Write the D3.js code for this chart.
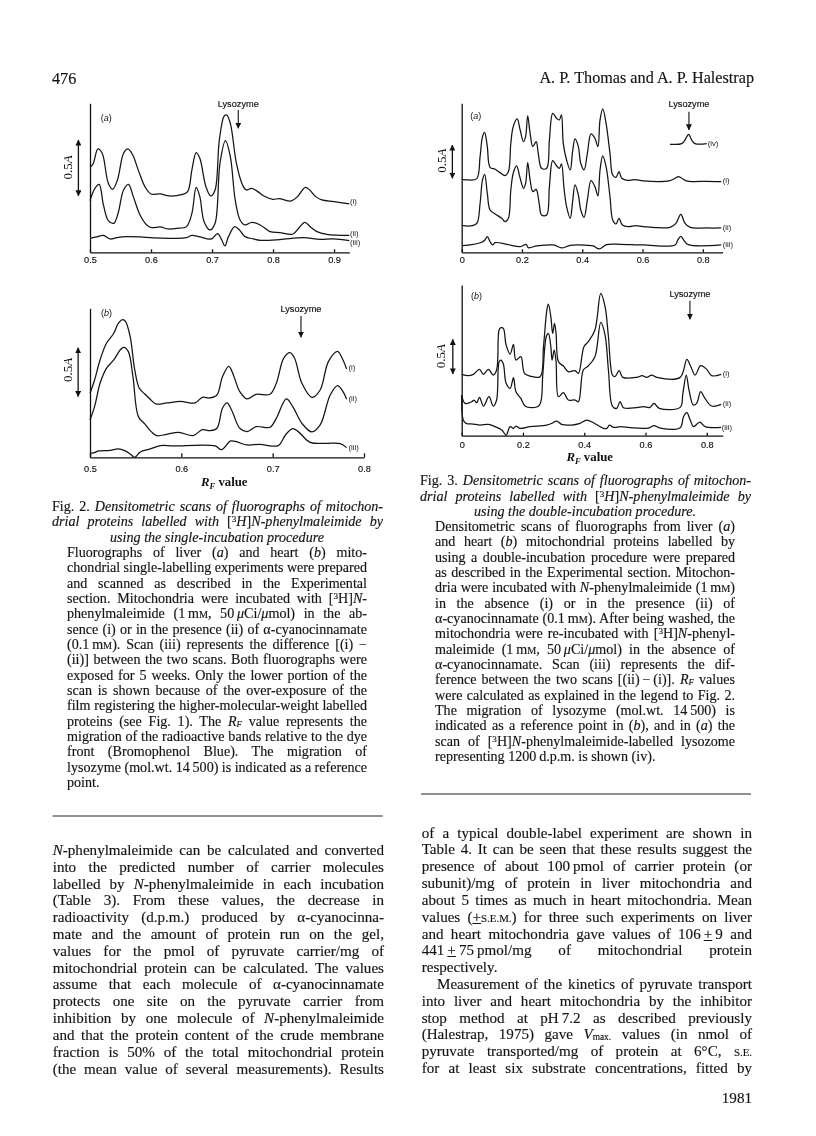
<!DOCTYPE html>
<html><head><meta charset="utf-8">
<script src="https://cdn.jsdelivr.net/npm/d3@7"></script>
<style>
html,body{margin:0;padding:0;background:#fff;}
#page{position:relative;width:816px;height:1136px;overflow:hidden;background:#fff;filter:blur(.3px);}
svg{position:absolute;left:0;top:0;}
.ln{position:absolute;white-space:nowrap;font-family:"Liberation Serif",serif;color:#141414;line-height:20px;-webkit-text-stroke:.15px #141414;}
.ln sup{font-size:.65em;line-height:0;vertical-align:.45em;}
.ln sub{font-size:.62em;line-height:0;vertical-align:-.15em;}
.sc{font-size:.72em;}
.axis path,.axis line{stroke:#111;stroke-width:1.3px;}
.axis text{font-family:"Liberation Sans",sans-serif;font-size:9.2px;fill:#111;stroke:#111;stroke-width:.15px;}
</style></head><body><div id="page"><svg width="816" height="1136" id="chart"></svg></div>
<script>
// ---- Fig. 2(a) liver, single incubation ----
const rf2a_i=[.5,.505,.513,.52,.53,.537,.545,.555,.562,.57,.58,.59,.6,.615,.63,.65,.66,.667,.674,.68,.69,.698,.705,.712,.72,.724,.73,.74,.75,.756,.765,.775,.785,.8,.81,.83,.84,.853,.86,.87,.88,.9,.925];
const h2a_i=[255,265,310,297,207,189,217,297,310,292,242,197,175,175,169,173,182,247,299,282,197,169,187,337,409,412,387,267,202,187,192,182,169,159,161,154,167,195,187,167,157,152,145];
const rf2a_ii=[.5,.508,.515,.522,.53,.539,.546,.555,.563,.571,.582,.593,.601,.615,.628,.642,.658,.667,.674,.68,.687,.697,.705,.713,.722,.73,.738,.746,.754,.765,.779,.795,.811,.833,.842,.852,.861,.872,.888,.925];
const h2a_ii=[155,192,204,142,95,87,117,187,204,167,112,82,74,76,70,72,77,117,195,167,92,67,87,267,335,287,157,97,82,90,82,62,59,55,72,90,77,62,54,51];
const rf2a_iii=[.5,.511,.522,.533,.544,.56,.582,.604,.637,.658,.667,.68,.699,.709,.716,.721,.727,.737,.745,.754,.768,.779,.811,.85,.877,.899,.925];
const h2a_iii=[42,46,51,40,44,47,46,43,42,44,51,46,40,56,37,19,47,77,67,47,40,36,38,44,39,40,35];
// ---- Fig. 2(b) heart, single incubation ----
const rf2b_i=[.5,.505,.511,.518,.526,.531,.536,.539,.544,.549,.554,.56,.566,.572,.584,.599,.615,.623,.631,.639,.645,.652,.657,.664,.672,.682,.697,.704,.712,.719,.724,.732,.743,.752,.761,.771,.777,.781];
const h2b_i=[192,232,292,342,372,402,413,407,362,262,207,190,174,160,163,168,163,180,178,187,242,273,247,197,175,189,189,222,297,314,297,222,180,202,287,318,292,265];
const rf2b_ii=[.5,.505,.511,.518,.526,.533,.537,.542,.547,.553,.56,.567,.573,.584,.597,.613,.623,.631,.639,.645,.65,.655,.664,.672,.682,.697,.704,.715,.722,.732,.743,.752,.763,.771,.777,.781];
const h2b_ii=[112,152,222,267,292,322,330,317,242,122,100,77,65,69,75,65,83,80,87,147,163,142,87,77,92,90,117,175,152,102,76,97,187,215,197,174];
const rf2b_iii=[.5,.504,.509,.522,.531,.538,.544,.549,.555,.566,.577,.591,.637,.644,.654,.661,.672,.686,.706,.714,.722,.728,.741,.759,.774,.781];
const h2b_iii=[12,13,19,21,25,20,10,0,16,25,35,34,34,23,49,46,37,39,35,67,86,77,45,42,41,29];
// ---- Fig. 3(a) liver, double incubation ----
const rf3a_i=[0,.022,.05,.061,.069,.076,.085,.094,.111,.127,.144,.155,.163,.171,.184,.194,.205,.212,.219,.227,.236,.247,.254,.265,.282,.291,.302,.315,.324,.331,.337,.348,.36,.368,.376,.387,.395,.406,.417,.429,.442,.452,.459,.468,.479,.492,.501,.512,.522,.531,.548,.575,.603,.691,.708,.719,.73,.746,.769,.813,.861];
const h3a_i=[219,217,221,287,347,360,317,255,249,239,230,242,327,377,400,367,332,347,409,357,317,332,297,252,252,337,417,402,397,412,327,277,247,302,340,317,267,247,297,355,342,317,397,430,387,297,232,225,242,222,216,218,214,215,222,227,222,214,212,213,212];
const rf3a_ii=[0,.028,.05,.061,.069,.076,.085,.094,.111,.133,.144,.155,.163,.171,.182,.194,.205,.212,.219,.227,.236,.247,.257,.265,.282,.291,.302,.315,.324,.331,.34,.348,.36,.368,.376,.387,.395,.406,.417,.429,.442,.452,.459,.468,.479,.492,.501,.512,.522,.533,.553,.577,.603,.691,.711,.727,.741,.758,.813,.861];
const h3a_ii=[81,79,87,147,217,234,177,127,115,102,92,102,187,237,259,222,192,207,269,217,182,189,147,112,112,197,275,259,252,265,187,137,102,152,202,172,127,105,157,215,197,169,247,289,257,167,97,85,102,82,77,80,77,75,87,114,87,75,73,73];
const rf3a_iii=[0,.039,.066,.077,.085,.094,.103,.111,.149,.194,.214,.221,.249,.304,.332,.36,.415,.437,.456,.481,.525,.603,.708,.717,.727,.738,.752,.861];
const h3a_iii=[20,24,30,37,47,32,22,29,24,17,24,14,19,22,13,21,21,19,10,23,24,22,22,37,48,35,23,22];
const rf3a_iv=[.691,.73,.741,.753,.763,.774,.813];
const h3a_iv=[324,326,337,354,337,326,326];
// ---- Fig. 3(b) heart, double incubation ----
const rf3b_i=[0,.022,.038,.058,.071,.087,.103,.114,.122,.128,.136,.145,.158,.169,.177,.193,.205,.223,.256,.267,.278,.283,.291,.297,.303,.308,.316,.332,.348,.37,.381,.399,.413,.435,.454,.468,.479,.492,.5,.514,.526,.571,.589,.604,.62,.637,.713,.735,.748,.762,.78,.8,.816,.847];
const h3b_i=[184,180,184,199,184,199,182,197,317,324,322,272,245,274,227,237,187,179,177,267,377,395,357,307,337,307,222,209,192,195,187,267,282,317,427,387,297,182,177,195,175,175,180,175,182,175,175,229,207,182,210,199,180,184];
const rf3b_ii=[0,.011,.033,.04,.049,.058,.071,.089,.103,.114,.122,.128,.136,.145,.158,.169,.177,.193,.207,.229,.254,.265,.276,.283,.291,.295,.302,.308,.316,.332,.348,.37,.381,.397,.413,.435,.454,.468,.479,.492,.506,.517,.528,.571,.593,.615,.628,.645,.713,.722,.733,.742,.756,.767,.78,.794,.816,.847];
const h3b_ii=[122,97,102,107,99,115,89,117,89,107,222,227,215,157,142,174,132,112,89,84,92,187,297,307,267,227,257,222,117,129,107,107,102,197,209,237,340,302,197,89,82,102,84,84,87,85,97,82,85,127,182,137,92,97,132,112,89,94];
const rf3b_iii=[0,.005,.014,.038,.06,.087,.109,.131,.145,.158,.169,.177,.19,.223,.277,.294,.31,.326,.359,.386,.408,.43,.463,.474,.482,.495,.519,.55,.609,.628,.648,.713,.724,.735,.746,.757,.777,.795,.847];
const h3b_iii=[122,47,37,35,32,34,27,17,2,27,22,29,22,27,32,37,44,34,32,37,47,39,22,22,32,25,27,24,23,30,23,24,57,69,47,27,41,27,25];

const ticks2a=[.5,.6,.7,.8,.9], ticks2b=[.5,.6,.7,.8], ticks3=[0,.2,.4,.6,.8];
const scanNames=["(i)","(ii)","(iii)","(iv)"];

// Running text
const capFig2=[
 '<span>Fig. 2.</span> <i>Densitometric scans of fluorographs of mitochon-</i>',
 '<i>drial proteins labelled with</i> [<sup>3</sup><i>H</i>]<i>N-phenylmaleimide by</i>',
 '<i>using the single-incubation procedure</i>'];
const bodyFig2=[
 'Fluorographs of liver (<i>a</i>) and heart (<i>b</i>) mito-',
 'chondrial single-labelling experiments were prepared',
 'and scanned as described in the Experimental',
 'section. Mitochondria were incubated with [<sup>3</sup>H]<i>N</i>-',
 'phenylmaleimide (1\u2009m<span class="sc">M</span>, 50\u2009<i>\u03bc</i>Ci/<i>\u03bc</i>mol) in the ab-',
 'sence (i) or in the presence (ii) of \u03b1-cyanocinnamate',
 '(0.1\u2009m<span class="sc">M</span>). Scan (iii) represents the difference [(i) \u2212',
 '(ii)] between the two scans. Both fluorographs were',
 'exposed for 5 weeks. Only the lower portion of the',
 'scan is shown because of the over-exposure of the',
 'film registering the higher-molecular-weight labelled',
 'proteins (see Fig. 1). The <i>R<sub>F</sub></i> value represents the',
 'migration of the radioactive bands relative to the dye',
 'front (Bromophenol Blue). The migration of',
 'lysozyme (mol.wt. 14\u2009500) is indicated as a reference',
 'point.'];
const capFig3=[
 '<span>Fig. 3.</span> <i>Densitometric scans of fluorographs of mitochon-</i>',
 '<i>drial proteins labelled with</i> [<sup>3</sup><i>H</i>]<i>N-phenylmaleimide by</i>',
 '<i>using the double-incubation procedure.</i>'];
const bodyFig3=[
 'Densitometric scans of fluorographs from liver (<i>a</i>)',
 'and heart (<i>b</i>) mitochondrial proteins labelled by',
 'using a double-incubation procedure were prepared',
 'as described in the Experimental section. Mitochon-',
 'dria were incubated with <i>N</i>-phenylmaleimide (1\u2009m<span class="sc">M</span>)',
 'in the absence (i) or in the presence (ii) of',
 '\u03b1-cyanocinnamate (0.1\u2009m<span class="sc">M</span>). After being washed, the',
 'mitochondria were re-incubated with [<sup>3</sup>H]<i>N</i>-phenyl-',
 'maleimide (1\u2009m<span class="sc">M</span>, 50\u2009<i>\u03bc</i>Ci/<i>\u03bc</i>mol) in the absence of',
 '\u03b1-cyanocinnamate. Scan (iii) represents the dif-',
 'ference between the two scans [(ii)\u2009\u2212\u2009(i)]. <i>R<sub>F</sub></i> values',
 'were calculated as explained in the legend to Fig. 2.',
 'The migration of lysozyme (mol.wt. 14\u2009500) is',
 'indicated as a reference point in (<i>b</i>), and in (<i>a</i>) the',
 'scan of [<sup>3</sup>H]<i>N</i>-phenylmaleimide-labelled lysozome',
 'representing 1200\u2009d.p.m. is shown (iv).'];
const leftCol=[
 '<i>N</i>-phenylmaleimide can be calculated and converted',
 'into the predicted number of carrier molecules',
 'labelled by <i>N</i>-phenylmaleimide in each incubation',
 '(Table 3). From these values, the decrease in',
 'radioactivity (d.p.m.) produced by \u03b1-cyanocinna-',
 'mate and the amount of protein run on the gel,',
 'values for the pmol of pyruvate carrier/mg of',
 'mitochondrial protein can be calculated. The values',
 'assume that each molecule of \u03b1-cyanocinnamate',
 'protects one site on the pyruvate carrier from',
 'inhibition by one molecule of <i>N</i>-phenylmaleimide',
 'and that the protein content of the crude membrane',
 'fraction is 50% of the total mitochondrial protein',
 '(the mean value of several measurements). Results'];
const rightCol=[
 'of a typical double-label experiment are shown in',
 'Table 4. It can be seen that these results suggest the',
 'presence of about 100\u2009pmol of carrier protein (or',
 'subunit)/mg of protein in liver mitochondria and',
 'about 5 times as much in heart mitochondria. Mean',
 'values (<u>+</u><span class="sc">S.E.M.</span>) for three such experiments on liver',
 'and heart mitochondria gave values of 106\u2009<u>+</u>\u20099 and',
 '441\u2009<u>+</u>\u200975\u2009pmol/mg of mitochondrial protein',
 'respectively.',
 'Measurement of the kinetics of pyruvate transport',
 'into liver and heart mitochondria by the inhibitor',
 'stop method at pH\u20097.2 as described previously',
 '(Halestrap, 1975) gave <i>V</i><sub>max.</sub> values (in nmol of',
 'pyruvate transported/mg of protein at 6\u00b0C, <span class="sc">S.E.</span>',
 'for at least six substrate concentrations, fitted by'];

const page=d3.select("#page");
function line(html,x,base,fs,target,align){
  const d=page.append("div").attr("class","ln").html(html)
    .style("font-size",fs+"px").style("left",x+"px").style("top",(base-10-.3375*fs)+"px");
  const w=d.node().getBoundingClientRect().width;
  if(target){
    const n=(d.text().match(/ /g)||[]).length;
    if(n) d.style("word-spacing",((target-w)/n)+"px");
  }
  if(align==="mid") d.style("left",(x-w/2)+"px");
  if(align==="end") d.style("left",(x-w)+"px");
  return d;
}
const fsCap=14.1, fsBig=15.1, fsHead=16.2;
const step=15.33, stepBig=16.82;
capFig2.forEach((t,i)=> i<2 ? line(t,52,510.7+i*step,fsCap,331) : line(t,217,510.7+i*step,fsCap,null,"mid"));
bodyFig2.forEach((t,i)=> line(t,67,556.7+i*step,fsCap,i<15?300:null));
capFig3.forEach((t,i)=> i<2 ? line(t,420,485+i*step,fsCap,331) : line(t,585,485+i*step,fsCap,null,"mid"));
bodyFig3.forEach((t,i)=> line(t,435,530.7+i*step,fsCap,i<15?300:null));
leftCol.forEach((t,i)=> line(t,52.7,855+i*stepBig,fsBig,331.3));
rightCol.forEach((t,i)=>{
  if(i===8) line(t,421.7,837.7+i*stepBig,fsBig);
  else if(i===9) line(t,437,837.7+i*stepBig,fsBig,315);
  else line(t,421.7,837.7+i*stepBig,fsBig,330.3);
});
line('476',52,84.3,fsHead);
line('A. P. Thomas and A. P. Halestrap',754,83.3,fsHead,null,"end");
line('1981',752,1103,fsBig,null,"end");

const svg=d3.select("#chart");
svg.append("defs").selectAll("marker").data(["s","e"]).join("marker")
  .attr("id",d=>"ah"+d).attr("viewBox","0 0 8 8").attr("refX",d=>d==="e"?7.5:.5).attr("refY",4)
  .attr("markerWidth",6).attr("markerHeight",6).attr("markerUnits","userSpaceOnUse").attr("orient","auto")
  .append("path").attr("d",d=>d==="e"?"M0,0L8,4L0,8Z":"M8,0L0,4L8,8Z").attr("fill","#111");
svg.selectAll("line.rule").data([[52.7,382.7,816],[421,751,794]]).join("line")
  .attr("class","rule").attr("x1",d=>d[0]).attr("x2",d=>d[1]).attr("y1",d=>d[2]).attr("y2",d=>d[2])
  .attr("stroke","#222").attr("stroke-width",1);

function panel(c){
  const x=d3.scaleLinear().domain(c.xDom).range(c.xPx);
  const y=d3.scaleLinear().domain([0,c.yMax]).range([c.base,c.base-c.yMax/3]);
  const g=svg.append("g");
  g.append("g").attr("class","axis").attr("transform",`translate(0,${c.base})`)
    .call(d3.axisBottom(x).tickValues(c.ticks).tickFormat(d=>d===0?"0":d3.format(".1f")(d))
      .tickSizeInner(-c.tick).tickSizeOuter(0).tickPadding(c.pad));
  g.append("g").attr("class","axis").attr("transform",`translate(${c.xPx[0]},0)`)
    .call(d3.axisLeft(y).tickValues([]).tickSizeOuter(0)).selectAll("text").remove();
  const ln=d3.line().x(d=>x(d[0])).y(d=>y(d[1])).curve(d3.curveCatmullRom.alpha(.5));
  c.series.forEach(s=>{
    g.append("path").attr("d",ln(d3.zip(s.rf,s.h))).attr("fill","none")
      .attr("stroke","#141414").attr("stroke-width",1.25).attr("stroke-linejoin","round");
    g.append("text").attr("x",x(s.lx)).attr("y",y(s.ly)).text(s.name)
      .attr("font-family","Liberation Sans").attr("font-size",7.8).attr("fill","#222");
  });
  // panel letter
  g.append("text").attr("x",x(c.letter[1])).attr("y",y(c.letter[2]))
    .attr("font-family","Liberation Sans").attr("font-size",9).attr("fill","#111")
    .html(`(<tspan font-style="italic">${c.letter[0]}</tspan>)`);
  // lysozyme marker
  const L=c.lyso;
  g.append("text").attr("x",x(L.rf)).attr("y",y(L.text)).attr("text-anchor","middle")
    .attr("font-family","Liberation Sans").attr("font-size",9.2).attr("fill","#111")
    .attr("stroke","#111").attr("stroke-width",.15).text("Lysozyme");
  g.append("line").attr("x1",x(L.rf)).attr("x2",x(L.rf)).attr("y1",y(L.from)).attr("y2",y(L.to))
    .attr("stroke","#111").attr("stroke-width",1.1).attr("marker-end","url(#ahe)");
  // 0.5A bar
  const B=c.bar;
  g.append("line").attr("x1",x(B.rf)).attr("x2",x(B.rf)).attr("y1",y(B.hi)).attr("y2",y(B.lo))
    .attr("stroke","#111").attr("stroke-width",1.3).attr("marker-end","url(#ahe)").attr("marker-start","url(#ahs)");
  g.append("text").attr("transform",`translate(${x(B.tx)+4},${y(B.ty)}) rotate(-90)`).attr("text-anchor","middle")
    .attr("font-family","Liberation Serif").attr("font-size",13).attr("fill","#111")
    .html('0.5<tspan font-style="italic">A</tspan>');
  if(c.rfLabel){
    g.append("text").attr("x",x(c.rfLabel[0])).attr("y",c.base+c.rfLabel[1]).attr("text-anchor","middle")
      .attr("font-family","Liberation Serif").attr("font-size",12.8).attr("font-weight",600).attr("fill","#111")
      .html('<tspan font-style="italic">R</tspan><tspan font-style="italic" font-size="8.5" dy="2.5">F</tspan><tspan dy="-2.5"> value</tspan>');
  }
}
panel({xDom:[.5,.925],xPx:[90,349.3],base:252.3,yMax:447,ticks:ticks2a,tick:3,pad:4.5,
  series:[{name:scanNames[0],rf:rf2a_i,h:h2a_i,lx:.926,ly:144},{name:scanNames[1],rf:rf2a_ii,h:h2a_ii,lx:.926,ly:50},{name:scanNames[2],rf:rf2a_iii,h:h2a_iii,lx:.926,ly:22}],
  letter:["a",.5175,395],lyso:{rf:.743,text:437,from:427,to:372},bar:{rf:.481,hi:337,lo:169,tx:.4645,ty:255}});
panel({xDom:[.5,.8],xPx:[90,364],base:457.3,yMax:447,ticks:ticks2b,tick:4,pad:8,
  series:[{name:scanNames[0],rf:rf2b_i,h:h2b_i,lx:.783,ly:263},{name:scanNames[1],rf:rf2b_ii,h:h2b_ii,lx:.783,ly:170},{name:scanNames[2],rf:rf2b_iii,h:h2b_iii,lx:.783,ly:23}],
  letter:["b",.512,425],lyso:{rf:.731,text:435,from:424,to:360},bar:{rf:.487,hi:329,lo:182,tx:.476,ty:262},rfLabel:[.647,29]});
panel({xDom:[0,.866],xPx:[461.7,722.7],base:252.3,yMax:447,ticks:ticks3,tick:3,pad:4.5,
  series:[{name:scanNames[0],rf:rf3a_i,h:h3a_i,lx:.866,ly:207},{name:scanNames[1],rf:rf3a_ii,h:h3a_ii,lx:.866,ly:68},{name:scanNames[2],rf:rf3a_iii,h:h3a_iii,lx:.866,ly:17},{name:scanNames[3],rf:rf3a_iv,h:h3a_iv,lx:.816,ly:320}],
  letter:["a",.028,400],lyso:{rf:.754,text:435,from:422,to:367},bar:{rf:-.031,hi:322,lo:222,tx:-.064,ty:275}});
panel({xDom:[0,.852],xPx:[461.7,722.7],base:435.7,yMax:452,ticks:ticks3,tick:3,pad:6,
  series:[{name:scanNames[0],rf:rf3b_i,h:h3b_i,lx:.852,ly:178},{name:scanNames[1],rf:rf3b_ii,h:h3b_ii,lx:.852,ly:88},{name:scanNames[2],rf:rf3b_iii,h:h3b_iii,lx:.849,ly:18}],
  letter:["b",.03,410],lyso:{rf:.745,text:416,from:405,to:349},bar:{rf:-.029,hi:289,lo:185,tx:-.069,ty:239},rfLabel:[.418,25.5]});
</script></body></html>
